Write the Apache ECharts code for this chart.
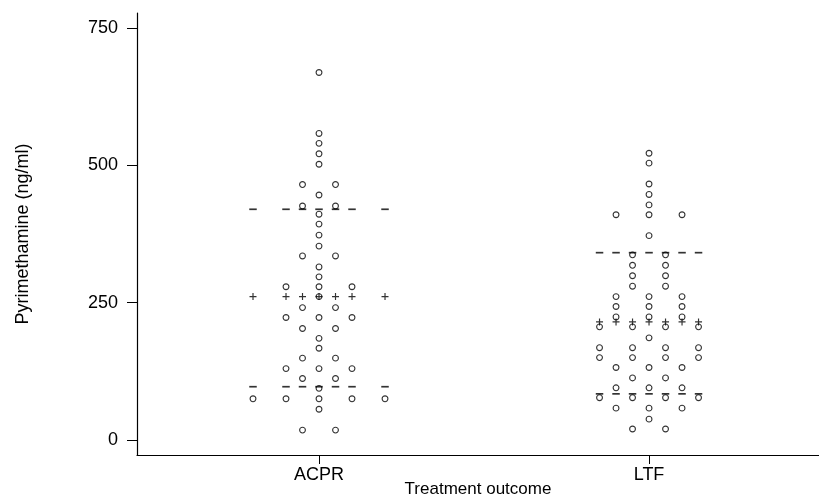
<!DOCTYPE html>
<html>
<head>
<meta charset="utf-8">
<script src="https://cdn.jsdelivr.net/npm/echarts@6/dist/echarts.min.js"></script>
<style>
html,body{margin:0;padding:0;background:#fff;}
#chart{width:819px;height:499px;}
</style>
</head>
<body>
<div id="chart"></div>
<script>
// ---- data ----
const categories = ['ACPR', 'LTF'];
// pyrimethamine values (ng/ml); equal values share a dot-plot bin
const acprValues = [669, 558, 540, 521, 502, 465, 465, 446, 426, 426, 411, 393, 373, 353,
  335, 335, 315, 297, 279, 279, 279, 261, 241, 241, 223, 223, 223, 203, 203, 185, 167,
  149, 149, 130, 130, 130, 112, 112, 94, 75, 75, 75, 75, 75, 56, 18, 18];
const ltfValues = [522, 504, 466, 447, 428, 410, 410, 410, 372, 337, 337, 318, 318, 299, 299,
  280, 280, 261, 261, 261, 243, 243, 243, 224, 224, 224, 206, 206, 206, 206, 186,
  168, 168, 168, 168, 150, 150, 150, 150, 132, 132, 132, 113, 113, 95, 95, 95,
  77, 77, 77, 77, 58, 58, 58, 38, 20, 20];
const medians = [261, 215];
const lowerQuartiles = [97, 84];
const upperQuartiles = [420, 341];
const yTicks = [0, 250, 500, 750];

// ---- layout helpers ----
const SLOT = 0.1; // spacing between dots in a bin (x-axis units)
function dotLayout(values, center) {
  const bins = new Map();
  values.forEach(v => { bins.set(v, (bins.get(v) || 0) + 1); });
  const pts = [];
  const offs = new Set();
  bins.forEach((n, v) => {
    for (let i = 0; i < n; i++) {
      const o = Math.round((i - (n - 1) / 2) * SLOT * 100) / 100;
      offs.add(o);
      pts.push([center + o, v]);
    }
  });
  return { pts, offs: Array.from(offs).sort((a, b) => a - b) };
}
const groups = [acprValues, ltfValues].map((vals, i) => dotLayout(vals, i + 1));

const points = [];
const plusMarks = [];
const dashMarks = [];
groups.forEach((g, i) => {
  g.pts.forEach(p => points.push(p));
  g.offs.forEach(o => {
    plusMarks.push([i + 1 + o, medians[i]]);
    dashMarks.push([i + 1 + o, lowerQuartiles[i]]);
    dashMarks.push([i + 1 + o, upperQuartiles[i]]);
  });
});

const FONT = 'Liberation Sans, Arial, Helvetica, sans-serif';
const chart = echarts.init(document.getElementById('chart'), null, { renderer: 'canvas' });
chart.setOption({
  animation: false,
  backgroundColor: '#fff',
  grid: { left: 137, right: 0, top: 13, bottom: 44, containLabel: false, outerBoundsMode: 'none' },
  xAxis: {
    type: 'value',
    min: 0.4485,
    max: 2.515,
    name: 'Treatment outcome',
    nameLocation: 'middle',
    nameGap: 26,
    nameMoveOverlap: false,
    nameTextStyle: { fontFamily: FONT, fontSize: 17, color: '#000' },
    splitLine: { show: false },
    axisLine: { show: true, onZero: false, lineStyle: { color: '#000', width: 1.2 } },
    axisTick: { show: true, length: 9, inside: false, customValues: [1, 2], lineStyle: { color: '#000' } },
    axisLabel: {
      show: true, margin: 11, fontFamily: FONT, fontSize: 18, color: '#000',
      customValues: [1, 2],
      formatter: v => categories[Math.round(v) - 1] || ''
    }
  },
  yAxis: {
    type: 'value',
    min: -27.3,
    max: 777.3,
    name: 'Pyrimethamine (ng/ml)',
    nameLocation: 'middle',
    nameGap: 105,
    nameMoveOverlap: false,
    nameTextStyle: { fontFamily: FONT, fontSize: 18, color: '#000' },
    splitLine: { show: false },
    axisLine: { show: true, onZero: false, lineStyle: { color: '#000', width: 1.2 } },
    axisTick: { show: true, length: 10, customValues: yTicks, lineStyle: { color: '#000' } },
    axisLabel: {
      show: true, margin: 19, fontFamily: FONT, fontSize: 18, color: '#000',
      customValues: yTicks
    }
  },
  series: [
    {
      type: 'scatter',
      name: 'dash',
      data: dashMarks,
      symbol: 'rect',
      symbolSize: [7.5, 1.7],
      itemStyle: { color: '#000' },
      z: 2
    },
    {
      type: 'scatter',
      name: 'plus',
      data: plusMarks,
      symbol: 'path://M2.5,0h1v2.5h2.5v1h-2.5v2.5h-1v-2.5h-2.5v-1h2.5z',
      symbolSize: 7,
      itemStyle: { color: '#000' },
      z: 2
    },
    {
      type: 'scatter',
      name: 'values',
      data: points,
      symbol: 'circle',
      symbolSize: 5.8,
      itemStyle: { color: 'rgba(255,255,255,0)', borderColor: '#000', borderWidth: 1.1 },
      z: 3
    }
  ]
});
</script>
</body>
</html>
